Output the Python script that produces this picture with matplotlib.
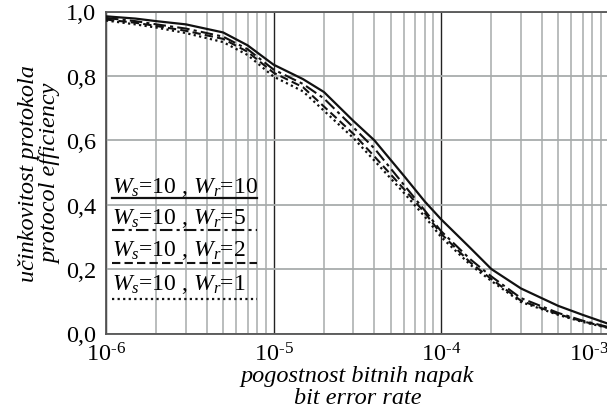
import matplotlib
matplotlib.use("Agg")
import matplotlib.pyplot as plt
from matplotlib.ticker import LogLocator, FixedLocator, NullFormatter

plt.rcParams['font.family'] = ['Liberation Serif', 'DejaVu Serif']
plt.rcParams['mathtext.fontset'] = 'custom'
plt.rcParams['mathtext.rm'] = 'Liberation Serif'
plt.rcParams['mathtext.it'] = 'Liberation Serif:italic'
plt.rcParams['mathtext.bf'] = 'Liberation Serif:bold'

# ---- data ----
ber = [1e-6, 1.5e-6, 2e-6, 3e-6, 5e-6, 7e-6, 1e-5, 1.5e-5, 2e-5, 3e-5, 4e-5,
       6e-5, 8e-5, 1e-4, 1.5e-4, 2e-4, 3e-4, 5e-4, 7e-4, 1e-3]
eff_wr10 = [0.985, 0.978, 0.970, 0.960, 0.935, 0.895, 0.835, 0.790, 0.750, 0.660, 0.600,
            0.490, 0.410, 0.355, 0.265, 0.200, 0.140, 0.086, 0.058, 0.030]
eff_wr5 = [0.980, 0.970, 0.960, 0.947, 0.922, 0.883, 0.820, 0.775, 0.730, 0.640, 0.575,
           0.462, 0.382, 0.318, 0.230, 0.177, 0.110, 0.064, 0.040, 0.020]
eff_wr2 = [0.975, 0.965, 0.955, 0.940, 0.915, 0.875, 0.810, 0.765, 0.705, 0.620, 0.550,
           0.449, 0.375, 0.310, 0.220, 0.169, 0.102, 0.060, 0.038, 0.018]
eff_wr1 = [0.972, 0.960, 0.950, 0.933, 0.905, 0.865, 0.798, 0.752, 0.692, 0.607, 0.537,
           0.437, 0.363, 0.300, 0.213, 0.163, 0.098, 0.058, 0.036, 0.017]
labels = ["$W_s$=10 , $W_r$=10", "$W_s$=10 , $W_r$=5",
          "$W_s$=10 , $W_r$=2", "$W_s$=10 , $W_r$=1"]
xticks = [1e-6, 1e-5, 1e-4, 1e-3]
xtick_labels = [r"10$^{\text{-6}}$", r"10$^{\text{-5}}$", r"10$^{\text{-4}}$", r"10$^{\text{-3}}$"]
yticks = [0.0, 0.2, 0.4, 0.6, 0.8, 1.0]
ytick_labels = ["0,0", "0,2", "0,4", "0,6", "0,8", "1,0"]

series = [eff_wr10, eff_wr5, eff_wr2, eff_wr1]
styles = ['-', (0, (6, 2, 1.5, 2)), (0, (4, 2)), (0, (1, 1.5))]
widths = [1.6, 1.5, 1.5, 1.6]

W, H = 607, 410
fig = plt.figure(figsize=(W / 100, H / 100), dpi=100)
ax = fig.add_axes([106 / W, 1 - 334.5 / H, (608.5 - 106) / W, (334.5 - 12.5) / H])

for y, ls, lw in zip(series, styles, widths):
    ax.plot(ber, y, color='#111111', linestyle=ls, linewidth=lw, zorder=3)

ax.set_xscale('log')
ax.set_xlim(1e-6, 1e-3)
ax.set_ylim(0, 1.0)

ax.xaxis.set_major_locator(FixedLocator(xticks))
ax.xaxis.set_minor_locator(LogLocator(base=10, subs=range(2, 10)))
ax.xaxis.set_minor_formatter(NullFormatter())
ax.set_xticks(xticks)
ax.set_xticklabels(xtick_labels)
ax.get_xticklabels()[-1].set_horizontalalignment('right')
ax.grid(which='minor', axis='x', color='#b4b8b8', linewidth=1.3)
ax.grid(which='major', axis='x', color='#222222', linewidth=1.0)
ax.set_yticks(yticks)
ax.set_yticklabels(ytick_labels)
ax.grid(which='major', axis='y', color='#a8acac', linewidth=1.3)
ax.tick_params(axis='both', which='both', length=0, labelsize=17.5)
ax.tick_params(axis='x', pad=6)
ax.tick_params(axis='y', pad=7)

for s in ['left', 'bottom', 'top']:
    ax.spines[s].set_color('#555555')
    ax.spines[s].set_linewidth(1.3)
ax.spines['right'].set_visible(False)

ax.set_xlabel("pogostnost bitnih napak\nbit error rate", fontsize=17.5,
              style='italic', linespacing=1.05, labelpad=0)
ax.set_ylabel("učinkovitost protokola\nprotocol efficiency", fontsize=17.5,
              style='italic', linespacing=1.1, va='center')
ax.yaxis.set_label_coords((40 - 106) / 502.5, 0.5)

# manual legend
text_y = [188, 219, 251, 285]
line_y = [199, 231, 264, 300]
x0, x1 = 112, 257
for lab, ty, ly, ls, lw in zip(labels, text_y, line_y, styles, widths):
    fig.text(x0 / W, 1 - ty / H, lab, fontsize=17, va='center', ha='left')
    fig.add_artist(plt.Line2D([x0 / W, x1 / W], [1 - ly / H, 1 - ly / H],
                              transform=fig.transFigure, color='#111111',
                              linestyle=ls, linewidth=lw))

fig.savefig("out.png", dpi=100)
